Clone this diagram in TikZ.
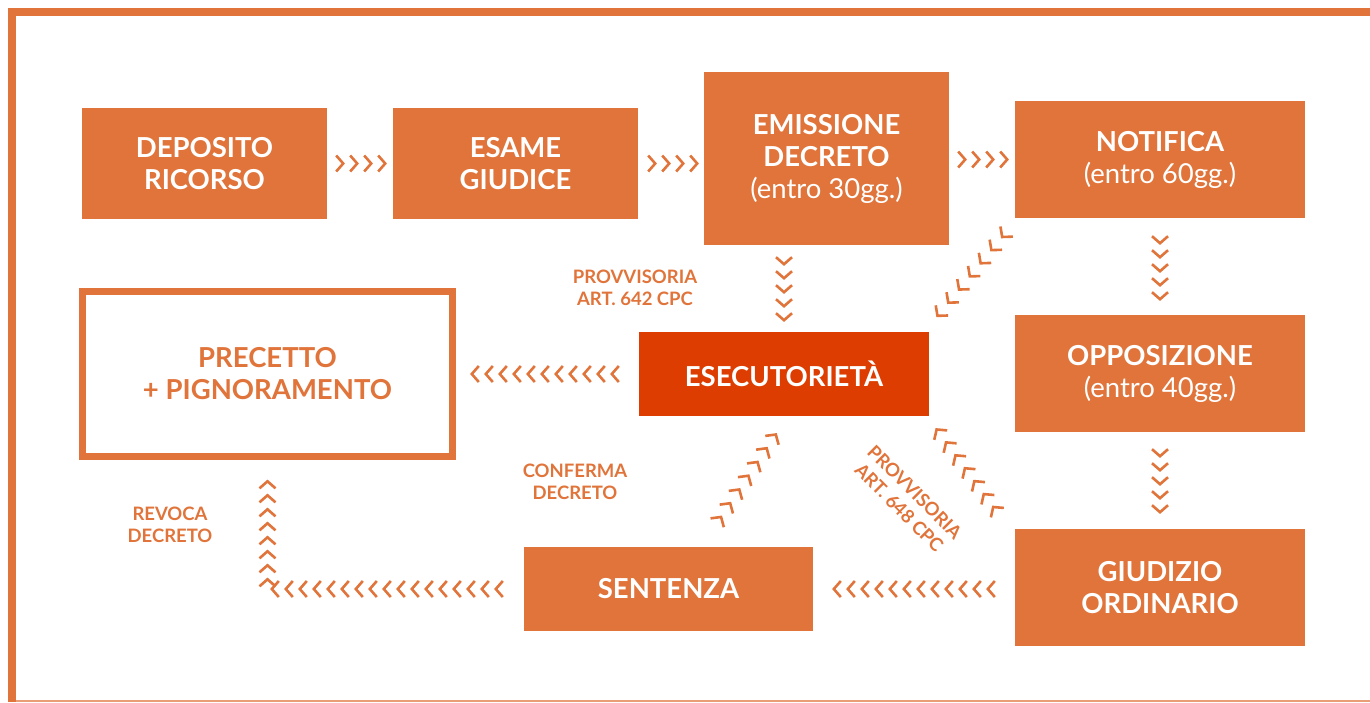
\documentclass[tikz,border=0pt]{standalone}
\usepackage{fontspec}
\setmainfont{Lato}
\usepackage{xcolor}
\usetikzlibrary{positioning, decorations.markings}
\definecolor{brand}{RGB}{224,116,58}
\definecolor{alert}{RGB}{221,61,0}
\tikzset{
    phase/.style={rectangle, fill=brand, text=white, minimum width=245pt, minimum height=111pt, inner sep=0pt, text centered, align=center, font=\bfseries\fontsize{27.5}{32}\selectfont},
    widephase/.style={phase, minimum width=290pt, minimum height=117pt},
    note/.style={text=brand, align=center, inner sep=0pt, font=\bfseries\fontsize{18.5}{22}\selectfont},
    chevrons/.style={decorate, decoration={markings,
        mark=between positions 0 and 1 step #1 with {\draw[brand, line width=2.6pt, line join=miter] (-6pt,-8pt) -- (1pt,0pt) -- (-6pt,8pt);}}},
    chevrons/.default=14pt
}
\begin{document}
\begin{tikzpicture}[x=1pt, y=-1pt]
    \useasboundingbox (0,0) rectangle (1370,702);
    % Frame
    \draw[brand, line width=8pt] (12,702) -- (12,12) -- (1370,12);
    \draw[brand!70, line width=1.2pt] (16,701) -- (1370,701);

    % Top row
    \node[phase] (deposito) at (204.5,163.5) {DEPOSITO\\RICORSO};
    \node[phase] (esame) at (515.5,163.5) {ESAME\\GIUDICE};
    \node[phase, minimum height=173pt] (emissione) at (826.5,158.5) {EMISSIONE\\DECRETO\\{\mdseries(entro 30gg.)}};
    \node[widephase] (notifica) at (1160,159.5) {NOTIFICA\\{\mdseries(entro 60gg.)}};

    % Right column
    \node[widephase] (opposizione) at (1160,373.5) {OPPOSIZIONE\\{\mdseries(entro 40gg.)}};
    \node[widephase] (giudizio) at (1160,587.5) {GIUDIZIO\\ORDINARIO};

    % Middle
    \node[phase, fill=alert, minimum width=290pt, minimum height=84pt] (esecutorieta) at (784,374) {ESECUTORIETÀ};
    \node[phase, minimum width=289pt, minimum height=84pt] (sentenza) at (668.5,589) {SENTENZA};
    \node[phase, fill=white, text=brand, draw=brand, line width=7pt, minimum width=370pt, minimum height=165pt] (precetto) at (267.5,374) {PRECETTO\\+ PIGNORAMENTO};

    % Labels
    \node[note] (lbl_642) at (635,288) {PROVVISORIA\\ART. 642 CPC};
    \node[note] (lbl_conferma) at (575,482) {CONFERMA\\DECRETO};
    \node[note] (lbl_revoca) at (170,525) {REVOCA\\DECRETO};
    \node[note, rotate=-45] (lbl_648) at (907,500) {PROVVISORIA\\ART. 648 CPC};

    % Flows
    \draw[chevrons] ([xshift=15pt]deposito.east) -- ([xshift=-6pt]esame.west);
    \draw[chevrons] ([xshift=16pt]esame.east) -- ([xshift=-6pt]emissione.west |- esame.east);
    \draw[chevrons] ([xshift=15pt]emissione.east |- notifica.west) -- ([xshift=-7pt]notifica.west);
    \draw[chevrons] ([yshift=-24pt]notifica.south) -- ([yshift=12pt]opposizione.north);
    \draw[chevrons] ([yshift=-23pt]opposizione.south) -- ([yshift=12pt]giudizio.north);
    \draw[chevrons] ([yshift=-18pt]esecutorieta.north |- emissione.south) -- ([yshift=6pt]esecutorieta.north);
    \draw[chevrons=17pt] ([xshift=-12pt, yshift=-18pt]notifica.south west) -- ([xshift=5pt, yshift=12pt]esecutorieta.north east);
    \draw[chevrons] ([xshift=-26pt]esecutorieta.west) -- ([xshift=12pt]precetto.east);

    % Back flows
    \draw[chevrons] ([xshift=-26pt]giudizio.west |- sentenza.east) -- ([xshift=19pt]sentenza.east);
    \draw[chevrons] ([xshift=-27pt]sentenza.west) -| ([yshift=-18pt]precetto.south);
    \draw[chevrons=16.5pt] ([xshift=52pt, yshift=29pt]sentenza.north) -- ([xshift=-6pt, yshift=-15pt]esecutorieta.south);
    \draw[chevrons=16pt] ([xshift=-21pt, yshift=21pt]giudizio.north west) -- ([xshift=5pt, yshift=-10pt]esecutorieta.south east);
\end{tikzpicture}
\end{document}
